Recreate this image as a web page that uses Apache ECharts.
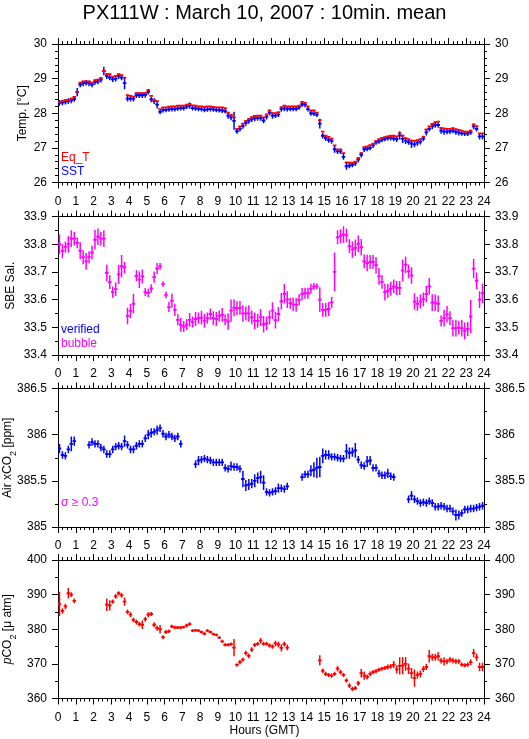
<!DOCTYPE html>
<html><head><meta charset="utf-8">
<script src="https://cdn.jsdelivr.net/npm/echarts@6/dist/echarts.min.js"></script>
<style>html,body{margin:0;padding:0;background:#fff}#c{width:529px;height:739px}</style>
</head><body><div id="c"></div>
<script>
// ---- data: 10-minute means, 144 bins (hour = (index+0.5)/6) ----
const hours = [0,1,2,3,4,5,6,7,8,9,10,11,12,13,14,15,16,17,18,19,20,21,22,23,24];

const sst = [
28.30,28.31,28.33,28.35,28.37,28.41, 28.61,28.83,28.86,28.88,28.86,28.83,
28.90,28.92,28.97,29.22,29.07,29.03, 28.98,29.00,29.07,29.03,28.87,28.42,
28.42,28.42,28.52,28.52,28.52,28.53, 28.62,28.40,28.35,28.25,28.04,28.09,
28.10,28.11,28.12,28.12,28.14,28.15, 28.15,28.19,28.22,28.15,28.14,28.13,
28.12,28.10,28.11,28.12,28.11,28.10, 28.09,28.08,28.06,27.93,27.88,27.78,
27.48,27.55,27.63,27.72,27.78,27.83, 27.85,27.86,27.86,27.79,27.90,28.02,
27.93,27.93,27.96,28.12,28.14,28.13, 28.13,28.13,28.13,28.17,28.26,28.25,
28.12,28.00,27.99,27.96,27.70,27.35, 27.28,27.23,27.20,26.96,26.90,26.90,
26.74,26.47,26.49,26.51,26.55,26.66, 26.80,26.96,26.97,27.00,27.07,27.16,
27.19,27.23,27.26,27.28,27.29,27.27, 27.25,27.36,27.26,27.21,27.17,27.12,
27.10,27.15,27.18,27.27,27.45,27.55, 27.62,27.66,27.66,27.50,27.47,27.47,
27.48,27.50,27.46,27.44,27.42,27.41, 27.41,27.45,27.62,27.55,27.33,27.33];
const sstSd = [
0.08,0.08,0.08,0.08,0.08,0.08, 0.12,0.08,0.08,0.08,0.08,0.08,
0.08,0.08,0.08,0.12,0.08,0.08, 0.08,0.08,0.08,0.08,0.18,0.08,
0.08,0.08,0.08,0.08,0.08,0.08, 0.08,0.08,0.08,0.11,0.07,0.07,
0.07,0.07,0.07,0.07,0.07,0.07, 0.07,0.07,0.09,0.07,0.07,0.07,
0.07,0.07,0.07,0.07,0.07,0.07, 0.07,0.07,0.07,0.09,0.08,0.26,
0.07,0.08,0.08,0.08,0.08,0.08, 0.08,0.08,0.08,0.08,0.08,0.08,
0.09,0.07,0.07,0.08,0.08,0.08, 0.07,0.07,0.07,0.07,0.08,0.08,
0.07,0.07,0.07,0.07,0.14,0.08, 0.08,0.08,0.08,0.10,0.08,0.08,
0.08,0.10,0.08,0.07,0.07,0.08, 0.08,0.08,0.07,0.07,0.07,0.07,
0.07,0.07,0.07,0.07,0.08,0.08, 0.08,0.12,0.12,0.10,0.08,0.12,
0.08,0.09,0.08,0.08,0.09,0.08, 0.08,0.08,0.08,0.09,0.09,0.08,
0.08,0.08,0.08,0.08,0.07,0.07, 0.07,0.07,0.08,0.08,0.09,0.09];
const eqT = [
28.33,28.35,28.38,28.38,28.42,28.47, 28.62,28.88,28.92,28.92,28.92,28.88,
28.95,28.97,29.02,29.22,29.13,29.13, 29.06,29.08,29.13,29.10,29.03,28.52,
28.50,28.48,28.58,28.58,28.58,28.58, 28.67,28.50,28.38,28.35,28.12,28.17,
28.17,28.19,28.20,28.20,28.22,28.22, 28.22,28.25,28.27,28.23,28.22,28.20,
28.20,28.18,28.20,28.20,28.18,28.17, 28.17,28.17,28.15,28.02,27.95,27.88,
27.55,27.62,27.70,27.78,27.83,27.88, 27.92,27.93,27.93,27.88,27.97,28.08,
28.00,28.00,28.03,28.17,28.22,28.20, 28.20,28.20,28.20,28.22,28.33,28.30,
28.20,28.08,28.08,28.02,27.80,27.47, 27.35,27.32,27.27,27.07,26.95,26.95,
26.85,26.58,26.57,26.57,26.60,26.70, 26.85,27.02,27.04,27.08,27.12,27.20,
27.25,27.29,27.31,27.33,27.35,27.35, 27.33,27.42,27.35,27.28,27.25,27.20,
27.20,27.22,27.25,27.32,27.53,27.62, 27.69,27.74,27.76,27.58,27.56,27.55,
27.55,27.57,27.54,27.52,27.50,27.47, 27.47,27.50,27.68,27.63,27.42,27.42];

const sal = [
33.800,33.775,33.790,33.800,33.820,33.820, 33.805,33.777,33.753,33.738,33.753,33.770,
33.816,33.827,33.820,33.820,33.696,33.663, 33.627,33.638,33.691,33.721,33.716,33.541,
33.559,33.585,33.686,33.672,33.684,33.627, 33.624,33.640,33.681,33.712,33.720,33.656,
33.617,33.573,33.596,33.563,33.527,33.509, 33.503,33.510,33.527,33.519,33.530,33.533,
33.535,33.523,33.533,33.548,33.533,33.530, 33.541,33.545,33.527,33.521,33.560,33.570,
33.569,33.570,33.550,33.550,33.550,33.536, 33.523,33.523,33.536,33.511,33.514,33.536,
33.560,33.526,33.548,33.594,33.621,33.600, 33.587,33.583,33.581,33.599,33.620,33.623,
33.623,33.639,33.648,33.648,33.600,33.563, 33.563,33.566,33.590,33.700,33.825,33.829,
33.835,33.832,33.793,33.781,33.787,33.801, 33.789,33.738,33.732,33.736,33.736,33.724,
33.684,33.664,33.627,33.632,33.639,33.648, 33.642,33.642,33.705,33.726,33.702,33.687,
33.593,33.585,33.593,33.601,33.620,33.648, 33.589,33.589,33.585,33.523,33.533,33.547,
33.533,33.497,33.497,33.499,33.497,33.487, 33.494,33.539,33.712,33.668,33.600,33.623];
const salSd = [
0.035,0.025,0.020,0.030,0.030,0.025, 0.020,0.030,0.025,0.030,0.022,0.025,
0.035,0.030,0.025,0.030,0.030,0.025, 0.020,0.025,0.035,0.040,0.020,0.030,
0.025,0.035,0.020,0.030,0.025,0.015, 0.015,0.015,0.020,0.020,0.012,0.010,
0.012,0.018,0.025,0.022,0.020,0.025, 0.020,0.020,0.025,0.020,0.025,0.020,
0.025,0.025,0.020,0.020,0.025,0.025, 0.020,0.025,0.020,0.030,0.040,0.030,
0.025,0.025,0.030,0.025,0.030,0.025, 0.030,0.025,0.030,0.030,0.025,0.025,
0.030,0.030,0.025,0.030,0.035,0.030, 0.020,0.025,0.025,0.020,0.022,0.020,
0.020,0.018,0.012,0.010,0.045,0.025, 0.025,0.025,0.020,0.070,0.025,0.025,
0.030,0.025,0.025,0.030,0.030,0.030, 0.030,0.025,0.030,0.025,0.025,0.030,
0.030,0.025,0.030,0.025,0.025,0.025, 0.025,0.025,0.040,0.030,0.025,0.030,
0.030,0.025,0.025,0.025,0.030,0.030, 0.030,0.030,0.030,0.020,0.030,0.030,
0.025,0.030,0.030,0.025,0.030,0.030, 0.025,0.060,0.035,0.030,0.030,0.035];

const xco2 = [
385.85,385.78,385.77,385.84,385.90,385.93, null,null,null,null,385.89,385.92,
385.90,385.90,385.86,385.84,385.79,385.79, 385.84,385.87,385.88,385.87,385.93,385.89,
385.84,385.84,385.88,385.90,385.90,385.96, 386.00,386.02,386.03,386.05,386.07,386.01,
385.98,386.00,385.98,385.96,385.98,385.90, null,null,null,null,385.68,385.72,
385.73,385.74,385.73,385.72,385.70,385.70, 385.70,385.70,385.64,385.63,385.66,385.65,
385.65,385.63,385.52,385.45,385.46,385.47, 385.50,385.53,385.54,385.48,385.38,385.37,
385.38,385.39,385.42,385.42,385.41,385.44, null,null,null,null,385.54,385.57,
385.57,385.61,385.62,385.64,385.65,385.77, 385.78,385.78,385.76,385.76,385.75,385.74,
385.74,385.82,385.80,385.81,385.83,385.73, 385.67,385.66,385.71,385.72,385.64,385.64,
385.58,385.56,385.56,385.58,385.55,385.54, null,null,null,null,385.30,385.34,
385.30,385.28,385.26,385.27,385.26,385.28, 385.26,385.22,385.22,385.23,385.22,385.20,
385.20,385.17,385.13,385.13,385.15,385.19, 385.19,385.20,385.20,385.21,385.22,385.23];
const xco2Sd = [
0.05,0.04,0.04,0.04,0.08,0.05, 0,0,0,0,0.04,0.04,
0.04,0.04,0.04,0.04,0.04,0.04, 0.04,0.04,0.04,0.04,0.06,0.04,
0.04,0.04,0.04,0.04,0.04,0.04, 0.05,0.05,0.04,0.05,0.04,0.04,
0.04,0.04,0.04,0.04,0.04,0.04, 0,0,0,0,0.04,0.05,
0.04,0.04,0.04,0.04,0.04,0.04, 0.04,0.04,0.04,0.04,0.05,0.04,
0.04,0.04,0.09,0.06,0.06,0.05, 0.07,0.06,0.07,0.08,0.04,0.04,
0.04,0.04,0.05,0.04,0.04,0.04, 0,0,0,0,0.04,0.04,
0.04,0.06,0.08,0.11,0.11,0.08, 0.05,0.05,0.04,0.04,0.04,0.04,
0.04,0.08,0.06,0.05,0.08,0.04, 0.04,0.04,0.06,0.05,0.04,0.04,
0.04,0.04,0.04,0.05,0.04,0.04, 0,0,0,0,0.04,0.05,
0.04,0.04,0.04,0.04,0.04,0.04, 0.04,0.04,0.04,0.04,0.04,0.04,
0.04,0.04,0.06,0.05,0.04,0.04, 0.04,0.04,0.04,0.04,0.04,0.04];

const pco2 = [
387.3,385.3,386.6,390.4,390.0,388.2, null,null,null,null,null,null,
null,null,null,null,387.1,386.9, 388.0,389.5,390.4,389.8,388.0,385.0,
384.2,382.7,382.1,381.5,381.3,382.9, 384.2,384.4,381.3,380.3,380.0,377.7,
379.2,379.4,380.8,380.5,380.5,380.5, 380.6,381.1,381.5,379.6,379.7,379.6,
379.2,378.7,379.6,379.2,378.6,378.4, 377.6,376.5,375.5,375.5,375.7,374.7,
369.7,370.5,371.2,373.1,372.3,374.1, 375.5,375.8,376.7,375.8,375.8,375.3,
375.0,375.9,375.6,374.6,375.7,374.7, null,null,null,null,null,null,
null,null,null,null,371.0,368.0, 367.1,366.8,366.6,367.1,368.6,367.6,
366.8,365.2,363.7,362.8,363.0,364.4, 367.3,366.6,366.2,367.1,367.6,367.9,
368.3,368.6,368.8,369.1,369.3,369.8, 368.4,369.4,369.5,370.0,368.6,367.3,
365.9,366.8,367.1,368.5,369.1,372.2, 371.9,371.9,372.2,370.9,370.7,370.7,
371.2,370.9,370.7,370.7,369.8,369.6, 369.8,370.5,373.1,371.9,369.1,369.1];
const pco2Sd = [
3.5,0.8,0.8,1.5,0.7,0.7, 0,0,0,0,0,0,
0,0,0,0,1.8,1.5, 0.6,0.7,0.6,0.7,1.2,0.7,
0.7,0.7,0.7,0.7,1.2,0.7, 0.7,0.6,0.7,0.7,1.2,0.6,
0.6,0.5,0.5,0.5,0.4,0.4, 0.4,0.5,0.5,0.4,0.4,0.4,
0.4,0.4,0.4,0.4,0.4,0.4, 0.4,0.5,0.5,0.5,0.5,2.5,
0.5,0.6,0.6,0.7,0.7,0.7, 0.6,0.6,0.8,0.6,0.6,0.6,
0.6,0.8,0.8,1.0,0.7,0.8, 0,0,0,0,0,0,
0,0,0,0,1.5,0.7, 0.6,0.6,0.6,0.6,0.8,0.7,
0.6,0.6,0.7,0.6,0.6,0.7, 1.2,1.2,0.7,0.7,0.6,0.6,
0.6,0.6,0.6,0.7,0.7,1.0, 1.2,2.5,2.5,2.0,1.5,1.5,
2.5,1.0,1.0,0.9,0.9,1.8, 1.0,1.0,1.2,0.8,1.2,0.8,
0.8,0.8,0.8,0.7,0.6,0.6, 0.6,0.8,1.2,1.0,1.2,1.2];

// ---- chart ----
const FONT = "'Liberation Sans', Arial, Helvetica, sans-serif";
const tops = [44, 216.5, 388.5, 560];
const H = 138.5, L = 58, W = 426;

function toData(vals, sds) {
  const out = [];
  vals.forEach((v, i) => { if (v !== null) out.push([(i + 0.5) / 6, v, sds ? sds[i] : 0]); });
  return out;
}
function cross(params, api) {
  const t = api.value(0), v = api.value(1), s = api.value(2);
  const a = api.coord([t - 1 / 12, v]), b = api.coord([t + 1 / 12, v]);
  const color = api.visual('color');
  const ch = [{ type: 'line', shape: { x1: a[0] - 0.3, y1: a[1], x2: b[0] + 0.3, y2: b[1] }, style: { stroke: color, lineWidth: 1.8 } }];
  if (s > 0) {
    const c = api.coord([t, v + s]), d = api.coord([t, v - s]);
    ch.push({ type: 'line', shape: { x1: c[0], y1: c[1], x2: d[0], y2: d[1] }, style: { stroke: color, lineWidth: 1.5 } });
  }
  return { type: 'group', children: ch };
}

const axLine = { onZero: false, lineStyle: { color: '#000', width: 1 } };
const grids = [], xAxes = [], yAxes = [];
const yCfg = [
  { min: 26, max: 30, interval: 1, minor: 5, name: 'Temp. [°C]', gap: 29 },
  { min: 33.4, max: 33.9, interval: 0.1, minor: 2, name: 'SBE Sal.', gap: 41 },
  { min: 385, max: 386.5, interval: 0.5, minor: 2, name: 'Air xCO{s|2} [ppm]', gap: 44 },
  { min: 360, max: 400, interval: 10, minor: 2, name: '{i|p}CO{s|2} [{n|μ} atm]', gap: 44 }
];
const rich = {
  s: { fontSize: 9, fontFamily: FONT, color: '#000', verticalAlign: 'bottom', padding: [0, 0, -4, 0] },
  i: { fontSize: 12, fontFamily: FONT, fontStyle: 'italic', color: '#000' },
  n: { fontSize: 12, fontFamily: FONT, color: '#000' }
};
for (let g = 0; g < 4; g++) {
  grids.push({ left: L, top: tops[g], width: W, height: H, show: false,
    containLabel: false, outerBoundsMode: 'none' });
  const xBase = {
    gridIndex: g, type: 'value', min: hours[0], max: hours[hours.length - 1], interval: 1,
    axisLine: axLine, splitLine: { show: false },
    axisTick: { show: true, inside: false, length: 6, lineStyle: { color: '#000' } },
    minorTick: { show: true, splitNumber: 4, length: 3, lineStyle: { color: '#000' } }
  };
  xAxes.push(Object.assign({}, xBase, { position: 'bottom',
    axisLabel: { show: true, margin: 13, fontSize: 12, color: '#000', fontFamily: FONT } }));
  xAxes.push(Object.assign({}, xBase, { position: 'top', axisLabel: { show: false } }));
  const c = yCfg[g];
  const yBase = {
    gridIndex: g, type: 'value', min: c.min, max: c.max, interval: c.interval,
    axisLine: Object.assign({ show: true }, axLine), splitLine: { show: false },
    axisTick: { show: true, inside: false, length: 6, lineStyle: { color: '#000' } },
    minorTick: { show: true, splitNumber: c.minor, length: 3, lineStyle: { color: '#000' } },
    axisLabel: { show: true, margin: 11, fontSize: 12, color: '#000', fontFamily: FONT }
  };
  yAxes.push(Object.assign({}, yBase, { position: 'left', name: c.name, nameLocation: 'middle',
    nameGap: c.gap, nameRotate: 90, nameMoveOverlap: false,
    nameTextStyle: { fontSize: 12, color: '#000', fontFamily: FONT, rich: rich } }));
  yAxes.push(Object.assign({}, yBase, { position: 'right' }));
}

const mk = (name, g, data, color) => ({
  name, type: 'custom', xAxisIndex: 2 * g, yAxisIndex: 2 * g, clip: true,
  renderItem: cross, itemStyle: { color }, data, encode: { x: 0, y: 1 }
});

const txt = (x, y, s, color, size) => ({ type: 'text', left: x, top: y,
  style: { text: s, fill: color, font: (size || 12) + 'px ' + FONT } });

const chart = echarts.init(document.getElementById('c'), null, { renderer: 'canvas' });
chart.setOption({
  animation: false,
  backgroundColor: '#fff',
  grid: grids, xAxis: xAxes, yAxis: yAxes,
  series: [
    mk('SST', 0, toData(sst, sstSd), '#0000ff'),
    mk('Eq_T', 0, toData(eqT, null), '#ff0000'),
    mk('bubble', 1, toData(sal, salSd), '#ff00ff'),
    mk('Air xCO2', 2, toData(xco2, xco2Sd), '#0000ff'),
    mk('pCO2', 3, toData(pco2, pco2Sd), '#ff0000')
  ],
  graphic: [
    { type: 'text', left: 'center', top: 3, style: { text: 'PX111W : March 10, 2007 : 10min. mean', fill: '#000', font: '20px ' + FONT } },
    txt(61, 152, 'Eq_T', '#ff0000'),
    txt(61, 166, 'SST', '#0000ff'),
    txt(61, 324, 'verified', '#0000ff'),
    txt(61, 338, 'bubble', '#ff00ff'),
    txt(61, 497, 'σ ≥ 0.3', '#ff00ff'),
    { type: 'text', left: 'center', top: 725, style: { text: 'Hours (GMT)', fill: '#000', font: '12px ' + FONT } }
  ]
});
</script>
</body></html>
